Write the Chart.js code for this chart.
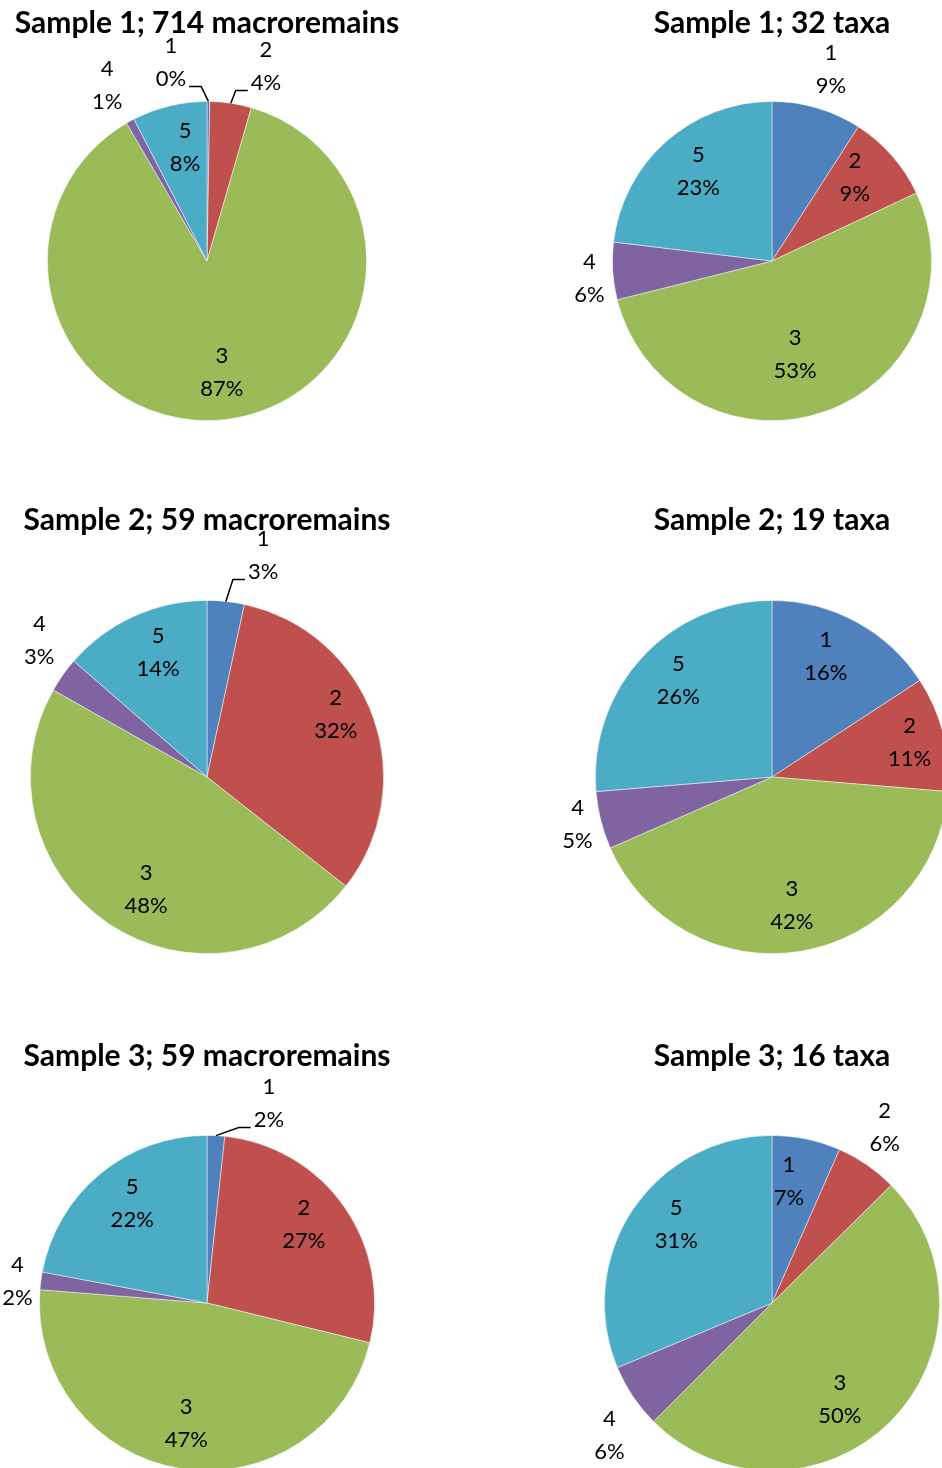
<!DOCTYPE html>
<html>
<head>
<meta charset="utf-8">
<script src="https://cdn.jsdelivr.net/npm/chart.js@4.4.1/dist/chart.umd.min.js"></script>
<style>
  html, body { margin: 0; padding: 0; background: #fff; overflow: hidden; width: 942px; height: 1468px; }
  body { position: relative; }
  canvas { position: absolute; }
</style>
</head>
<body>
<script>
"use strict";

// groups 1..5, same order and colours in every pie
const categories = ['1', '2', '3', '4', '5'];
const sliceColors = ['#4F81BD', '#C0504D', '#9BBB59', '#8064A2', '#4BACC6'];

const titles = [
  'Sample 1; 714 macroremains', 'Sample 1; 32 taxa',
  'Sample 2; 59 macroremains', 'Sample 2; 19 taxa',
  'Sample 3; 59 macroremains', 'Sample 3; 16 taxa'
];

// counts per group (macroremains) and share per group (taxa)
const sample1Macro = [2, 30, 622, 6, 54];
const sample1Taxa = [9.1, 8.9, 53.1, 5.8, 23.1];
const sample2Macro = [3.4, 32.2, 47.6, 3.2, 13.6];
const sample2Taxa = [3, 2, 8, 1, 5];
const sample3Macro = [1, 16, 28, 1, 13];
const sample3Taxa = [6.6, 6.0, 49.9, 6.2, 31.3];

const seriesList = [sample1Macro, sample1Taxa, sample2Macro, sample2Taxa, sample3Macro, sample3Taxa];

// where each pie sits on the page, and how its data labels are placed
// dist = label distance in radii, turn = degrees off the slice middle
const layouts = [
  { cx: 207, cy: 261, r: 160, titleY: 33,
    dist: [1.264, 1.273, 0.706, 1.265, 0.726], turn: [-10.8, 8.3, -0.5, -0.9, 2.7],
    leader: [true, true, false, false, false] },
  { cx: 772, cy: 261, r: 160, titleY: 33,
    dist: [1.256, 0.738, 0.605, 1.149, 0.728], turn: [0.7, -4.1, 5.8, -2, 2.2],
    leader: [false, false, false, false, false] },
  { cx: 207, cy: 777, r: 177, titleY: 530,
    dist: [1.294, 0.811, 0.725, 1.225, 0.759], turn: [8.1, -6.2, -5.4, 3.9, 3.1],
    leader: [true, false, false, false, false] },
  { cx: 772, cy: 777, r: 177, titleY: 530,
    dist: [0.749, 0.804, 0.737, 1.133, 0.763], turn: [-4.4, 0, 0.7, 0.6, 3.3],
    leader: [false, false, false, false, false] },
  { cx: 207, cy: 1303, r: 168, titleY: 1066,
    dist: [1.246, 0.745, 0.731, 1.139, 0.744], turn: [14.2, -4.1, 0.6, -1, 2.8],
    leader: [true, false, false, false, false] },
  { cx: 772, cy: 1303, r: 168, titleY: 1066,
    dist: [0.733, 1.245, 0.705, 1.252, 0.740], turn: [-4, -1.9, 9.8, -5.4, 5.8],
    leader: [false, false, false, false, false] }
];

const CANVAS_W = 472;
const CANVAS_H = 500;
const HALF_W = 236;
const TOP_OFF = 275;

const labelFont = '22px Lato, "Open Sans", sans-serif';
const titleFont = 'bold 30px Lato, "Open Sans", sans-serif';

const pieDecor = {
  id: 'pieDecor',
  afterDraw(chart, args, opts) {
    const ctx = chart.ctx;
    const meta = chart.getDatasetMeta(0);
    const data = chart.data.datasets[0].data;
    const total = data.reduce((a, b) => a + b, 0);

    ctx.save();
    // title
    ctx.fillStyle = '#000';
    ctx.font = titleFont;
    ctx.textAlign = 'center';
    ctx.textBaseline = 'alphabetic';
    ctx.fillText(opts.title, opts.titleX, opts.titleY);

    // category + percentage labels
    ctx.font = labelFont;
    ctx.textBaseline = 'middle';
    meta.data.forEach((arc, i) => {
      const p = arc.getProps(['x', 'y', 'startAngle', 'endAngle', 'outerRadius'], true);
      const mid = (p.startAngle + p.endAngle) / 2;
      const a = mid + opts.turn[i] * Math.PI / 180;
      const lx = p.x + Math.cos(a) * p.outerRadius * opts.dist[i];
      const ly = p.y + Math.sin(a) * p.outerRadius * opts.dist[i];
      const pct = Math.round(data[i] / total * 100) + '%';
      ctx.fillText(chart.data.labels[i], lx, ly - 16.5);
      ctx.fillText(pct, lx, ly + 16.5);

      if (opts.leader[i]) {
        const ax = p.x + Math.cos(mid) * p.outerRadius;
        const ay = p.y + Math.sin(mid) * p.outerRadius;
        const half = ctx.measureText(pct).width / 2;
        const side = lx < ax ? 1 : -1;
        const x0 = lx + side * (half + 3);
        const x1 = x0 + side * 12;
        const yl = ly + 24;
        ctx.beginPath();
        ctx.moveTo(x0, yl);
        ctx.lineTo(x1, yl);
        ctx.lineTo(ax, ay);
        ctx.strokeStyle = '#000';
        ctx.lineWidth = 1.5;
        ctx.stroke();
      }
    });
    ctx.restore();
  }
};

function makePie(values, title, lay) {
  const canvas = document.createElement('canvas');
  const left = lay.cx - HALF_W;
  const top = lay.cy - TOP_OFF;
  canvas.width = CANVAS_W;
  canvas.height = CANVAS_H;
  canvas.style.left = left + 'px';
  canvas.style.top = top + 'px';
  document.body.append(canvas);

  const padX = HALF_W - lay.r;
  return new Chart(canvas, {
    type: 'pie',
    data: {
      labels: categories,
      datasets: [{
        data: values,
        backgroundColor: sliceColors,
        borderColor: 'rgba(255,255,255,0.6)',
        borderWidth: 0.8,
        hoverOffset: 0
      }]
    },
    options: {
      responsive: false,
      animation: false,
      layout: {
        padding: { left: padX, right: padX, top: TOP_OFF - lay.r, bottom: CANVAS_H - TOP_OFF - lay.r }
      },
      plugins: {
        legend: { display: false },
        tooltip: { enabled: false },
        pieDecor: {
          title: title,
          titleX: HALF_W,
          titleY: lay.titleY - top,
          dist: lay.dist,
          turn: lay.turn,
          leader: lay.leader
        }
      }
    },
    plugins: [pieDecor]
  });
}

seriesList.forEach((values, i) => makePie(values, titles[i], layouts[i]));
</script>
</body>
</html>
